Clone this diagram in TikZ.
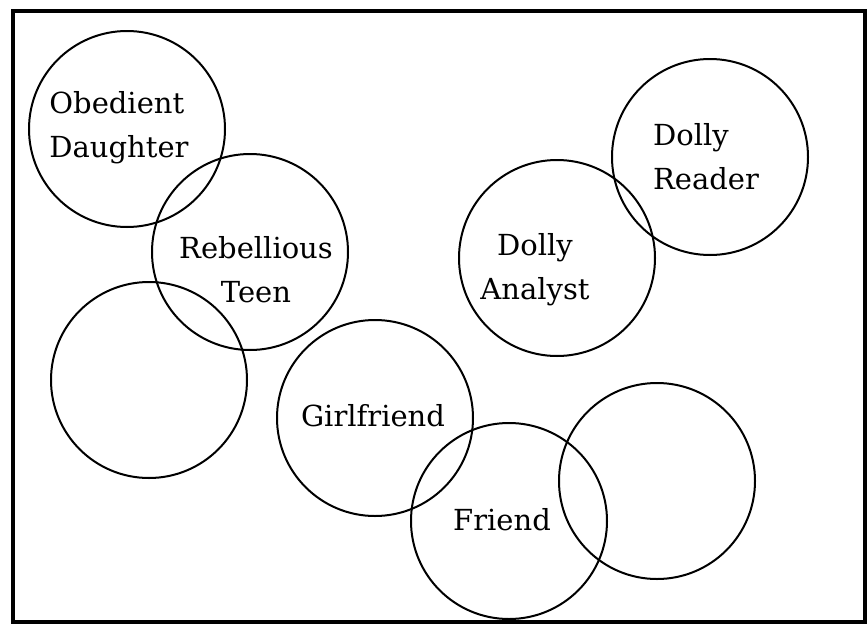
\documentclass[tikz,border=0pt]{standalone}
\usepackage{fontspec}
\setmainfont{DejaVu Serif}

\begin{document}
\begin{tikzpicture}[x=1pt,y=-1pt,
every node/.style={font=\fontsize{29}{44}\selectfont},
role/.style={circle,draw,line width=2pt,minimum size=196pt,inner sep=0pt},
word/.style={inner sep=0pt}]
\useasboundingbox (0,0) rectangle (868,627);
\draw[line width=3.5pt] (13,11) rectangle (865,622);
% circles
\node[role] (daughter) at (127,129) {};
\node[role] (teen) at (250,252) {};
\node[role] (blankleft) at (149,380) {};
\node[role] (analyst) at (557,258) {};
\node[role] (reader) at (710,157) {};
\node[role] (girlfriend) at (375,418) {};
\node[role] (friend) at (509,521) {};
\node[role] (blankright) at (657,481) {};
% labels
\node[word,align=left] (daughterlbl) at (119,128) {Obedient\\Daughter};
\node[word,align=center] (teenlbl) at (256,270) {Rebellious\\Teen};
\node[word,align=center] (analystlbl) at (535,270) {Dolly\\Analyst};
\node[word,align=left] (readerlbl) at (706,157) {Dolly\\Reader};
\node[word] (girlfriendlbl) at (373,416) {Girlfriend};
\node[word] (friendlbl) at (502,520) {Friend};
\end{tikzpicture}
\end{document}
